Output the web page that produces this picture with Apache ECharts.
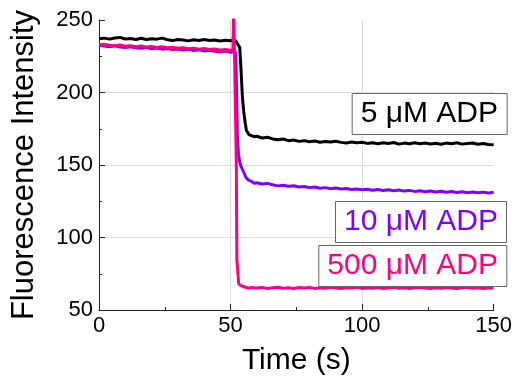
<!DOCTYPE html>
<html>
<head>
<meta charset="utf-8">
<script src="https://cdn.jsdelivr.net/npm/echarts@6/dist/echarts.min.js"></script>
<style>
html,body{margin:0;padding:0;background:#fff;}
#chart{width:515px;height:381px;}
</style>
</head>
<body>
<div id="chart"></div>
<script>
var xTicks = [0, 50, 100, 150];
var yTicks = [50, 100, 150, 200, 250];
var seriesNames = ['5 μM ADP', '10 μM ADP', '500 μM ADP'];
var seriesColors = ['#000000', '#8000ff', '#ff0080'];

var blackTime = [0,2,4,6,8,10,12,14,16,18,20,22,24,26,28,30,32,34,36,38,40,42,44,46,48,50,
  51,52,52.7,53.5,54,54.5,55,55.5,56,57,58,59,60,
  62,64,66,68,70,72,74,76,78,80,82,84,86,88,90,92,94,96,98,100,
  102,104,106,108,110,112,114,116,118,120,122,124,126,128,130,132,134,136,138,140,142,144,146,148,150];
var blackValues = [237,237.5,236.8,237.6,238,236.9,237.2,236.6,237.4,236.5,237.1,236.8,237.5,236.4,235.8,236.6,236.2,235.6,236.4,235.9,236.5,235.8,236.2,235.5,236.0,235.7,
  236.3,235.6,235.5,231,215,197,187,180,174,171,170.2,169.5,169.8,
  168.6,169.1,168.0,167.4,167.9,166.8,167.2,166.3,166.8,166.0,166.5,165.7,166.2,165.9,166.4,165.6,165.2,165.9,165.3,165.7,
  164.9,165.4,164.6,165.3,164.8,165.5,164.4,165.1,164.7,165.4,164.6,165.2,164.5,165.0,164.3,165.1,164.6,165.3,164.4,164.9,165.2,164.3,164.8,164.1,164.0];

var purpleTime = [0,2,4,6,8,10,12,14,16,18,20,22,24,26,28,30,32,34,36,38,40,42,44,46,48,50,
  51,52,52.3,52.6,53,53.5,54,55,56,57,58,59,60,
  62,64,66,68,70,72,74,76,78,80,82,84,86,88,90,92,94,96,98,100,
  102,104,106,108,110,112,114,116,118,120,122,124,126,128,130,132,134,136,138,140,142,144,146,148,150];
var purpleValues = [232.5,232.0,231.6,232.2,231.3,231.0,231.6,230.8,230.5,231.1,230.2,230.6,229.9,230.4,229.6,230.0,229.3,229.8,229.0,229.4,228.7,229.1,228.4,228.0,228.6,227.8,
  228.2,227.6,200,170,158,152,149,145,141,139.5,138.6,137.4,137.8,
  136.9,137.3,136.4,135.6,136.0,135.3,135.7,134.8,135.2,134.4,134.8,134.0,134.4,133.7,134.1,133.4,133.8,133.1,133.5,132.9,
  133.3,132.6,133.1,132.4,132.9,132.2,132.7,132.0,132.5,131.8,132.3,131.6,132.1,131.4,131.9,131.2,131.7,131.0,131.6,130.9,131.4,130.8,131.3,130.7,131.2];

var pinkTime = [0,2,4,6,8,10,12,14,16,18,20,22,24,26,28,30,32,34,36,38,40,42,44,46,48,50,
  50.9,51.2,51.9,52.2,52.4,52.9,53.1,53.4,54,55,56,57,58,60,
  62,64,66,68,70,72,74,76,78,80,82,84,86,88,90,92,94,96,98,100,
  102,104,106,108,110,112,114,116,118,120,122,124,126,128,130,132,134,136,138,140,142,144,146,148,150];
var pinkValues = [232.8,233.3,232.6,232.1,232.7,231.9,232.3,231.6,232.0,231.4,231.8,231.1,231.5,230.8,231.2,230.5,230.9,230.2,230.6,229.9,230.3,229.6,230.0,229.3,229.7,229.2,
  229.5,258,258,150,85,84,68,67.5,66.8,66.2,65.5,65.1,65.6,65.2,
  65.6,64.9,65.3,65.7,65.0,65.4,64.8,65.5,65.1,65.6,64.9,65.3,65.0,65.7,65.2,64.8,65.4,65.1,65.6,64.9,
  65.3,65.0,65.5,64.8,65.2,65.6,65.0,65.4,64.9,65.3,65.7,65.1,64.8,65.4,65.0,65.5,65.2,64.9,65.3,65.6,65.0,65.4,64.8,65.2,65.1];

function zip(t, v) { return t.map(function (x, i) { return [x, v[i]]; }); }

var FONT = '"Liberation Sans", Arial, sans-serif';
var chart = echarts.init(document.getElementById('chart'), null, {renderer: 'canvas'});

function boxTitle(text, color, top) {
  return {
    text: text, right: 8, top: top,
    padding: [6, 9, 6, 9],
    borderColor: '#666', borderWidth: 1, backgroundColor: '#fff',
    textStyle: {fontFamily: FONT, fontSize: 30, fontWeight: 'normal', color: color, lineHeight: 30}
  };
}

chart.setOption({
  animation: false,
  backgroundColor: '#fff',
  title: [
    boxTitle(seriesNames[0], seriesColors[0], 93),
    boxTitle(seriesNames[1], seriesColors[1], 201),
    boxTitle(seriesNames[2], seriesColors[2], 245)
  ],
  grid: {left: 99, right: 20, top: 20, bottom: 67},
  xAxis: {
    type: 'value', min: xTicks[0], max: xTicks[xTicks.length - 1], interval: 50,
    name: 'Time (s)', nameLocation: 'middle', nameGap: 36,
    nameTextStyle: {fontFamily: FONT, fontSize: 30, color: '#000'},
    axisLine: {show: true, lineStyle: {color: '#222', width: 1}},
    axisTick: {show: true, inside: true, length: 6, lineStyle: {color: '#222'}},
    minorTick: {show: true, splitNumber: 2, length: 3, lineStyle: {color: '#222'}},
    axisLabel: {fontFamily: FONT, fontSize: 22, color: '#000', margin: 5},
    splitLine: {show: true, showMinLine: false, showMaxLine: false, lineStyle: {color: '#dcdcdc', width: 1}}
  },
  yAxis: {
    type: 'value', min: yTicks[0], max: yTicks[yTicks.length - 1], interval: 50,
    name: 'Fluorescence Intensity', nameLocation: 'middle', nameGap: 59,
    nameTextStyle: {fontFamily: FONT, fontSize: 31, color: '#000'},
    axisLine: {show: true, lineStyle: {color: '#222', width: 1}},
    axisTick: {show: true, inside: true, length: 6, lineStyle: {color: '#222'}},
    minorTick: {show: true, splitNumber: 2, length: 3, lineStyle: {color: '#222'}},
    axisLabel: {fontFamily: FONT, fontSize: 22, color: '#000', margin: 6},
    splitLine: {show: true, showMinLine: false, showMaxLine: false, lineStyle: {color: '#dcdcdc', width: 1}}
  },
  series: [
    {name: seriesNames[0], type: 'line', data: zip(blackTime, blackValues), showSymbol: false, clip: true,
     lineStyle: {color: seriesColors[0], width: 3}, itemStyle: {color: seriesColors[0]}},
    {name: seriesNames[1], type: 'line', data: zip(purpleTime, purpleValues), showSymbol: false, clip: true,
     lineStyle: {color: seriesColors[1], width: 3}, itemStyle: {color: seriesColors[1]}},
    {name: seriesNames[2], type: 'line', data: zip(pinkTime, pinkValues), showSymbol: false, clip: true,
     lineStyle: {color: seriesColors[2], width: 3}, itemStyle: {color: seriesColors[2]}}
  ]
});
</script>
</body>
</html>
